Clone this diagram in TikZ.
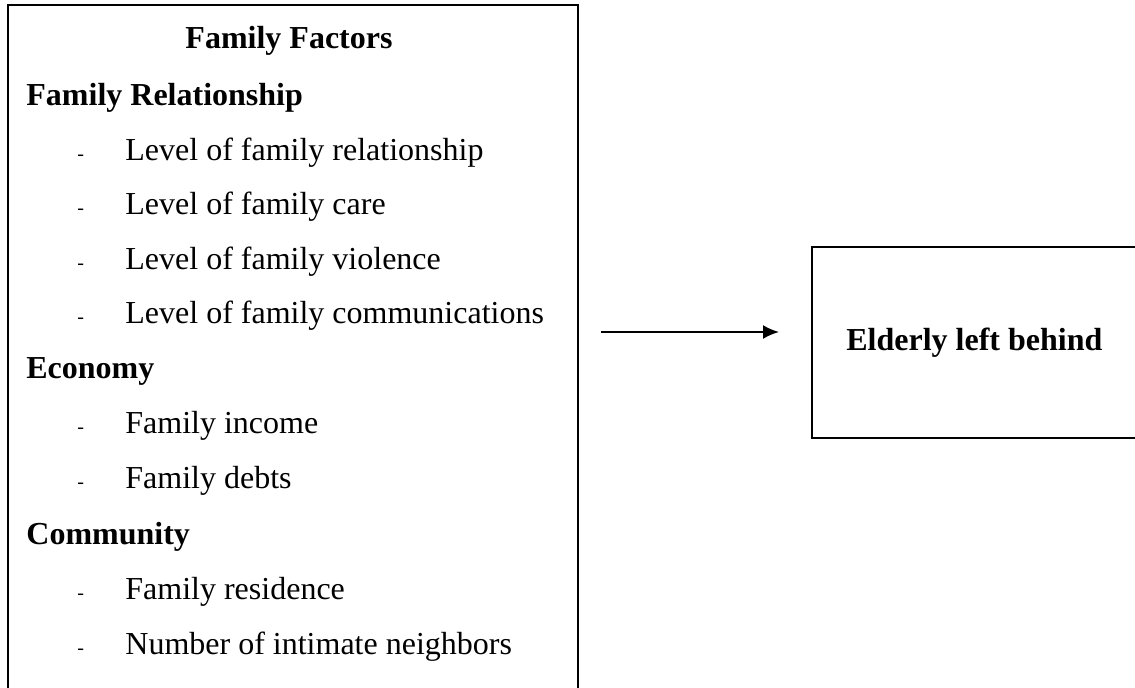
\documentclass[tikz,border=0pt]{standalone}
\usepackage{fontspec}
\setmainfont{Liberation Serif}
\usetikzlibrary{arrows.meta}
\tikzset{box/.style={draw, line width=0.8pt, inner sep=0pt}}
\tikzset{heading/.style={anchor=base west, inner sep=0pt, font=\fontsize{16}{18}\selectfont\bfseries},
         item/.style={anchor=base west, inner sep=0pt, font=\fontsize{16}{18}\selectfont},
         bullet dash/.style={anchor=base west, inner sep=0pt, font=\fontsize{10}{12}\selectfont}}

\begin{document}
\begin{tikzpicture}[x=0.5pt, y=-0.5pt]
    \useasboundingbox (0,0) rectangle (1135,687);
    \clip (0,0) rectangle (1135,687);
    % both boxes run off the page edge
    \node[box, anchor=north west, minimum width=285pt, minimum height=360pt] (factors) at (7,4) {};
    \node[box, anchor=north west, minimum width=162.5pt, minimum height=95.5pt,
      font=\fontsize{16}{18}\selectfont\bfseries] (elderly) at (811,246) {Elderly left behind};

    \node[heading, anchor=base] (title) at (289,48) {Family Factors};
    \node[heading] (relationship) at (26,105) {Family Relationship};
    \node[heading] (economy) at (26,378) {Economy};
    \node[heading] (community) at (26,544) {Community};

    \foreach \y/\txt [count=\i] in {160/Level of family relationship, 214/Level of family care,
        269/Level of family violence, 323/Level of family communications,
        433/Family income, 488/Family debts,
        599/Family residence, 654/Number of intimate neighbors}
    {
      \node[bullet dash] (dash\i) at (77,\y) {-};
      \node[item] (item\i) at (125,\y) {\txt};
    }

    \coordinate (from) at (601,332);
    \coordinate (to) at (779,332);
    \draw[line width=1pt, -{Latex[length=8pt, width=7pt]}] (from) -- (to);
\end{tikzpicture}
\end{document}
